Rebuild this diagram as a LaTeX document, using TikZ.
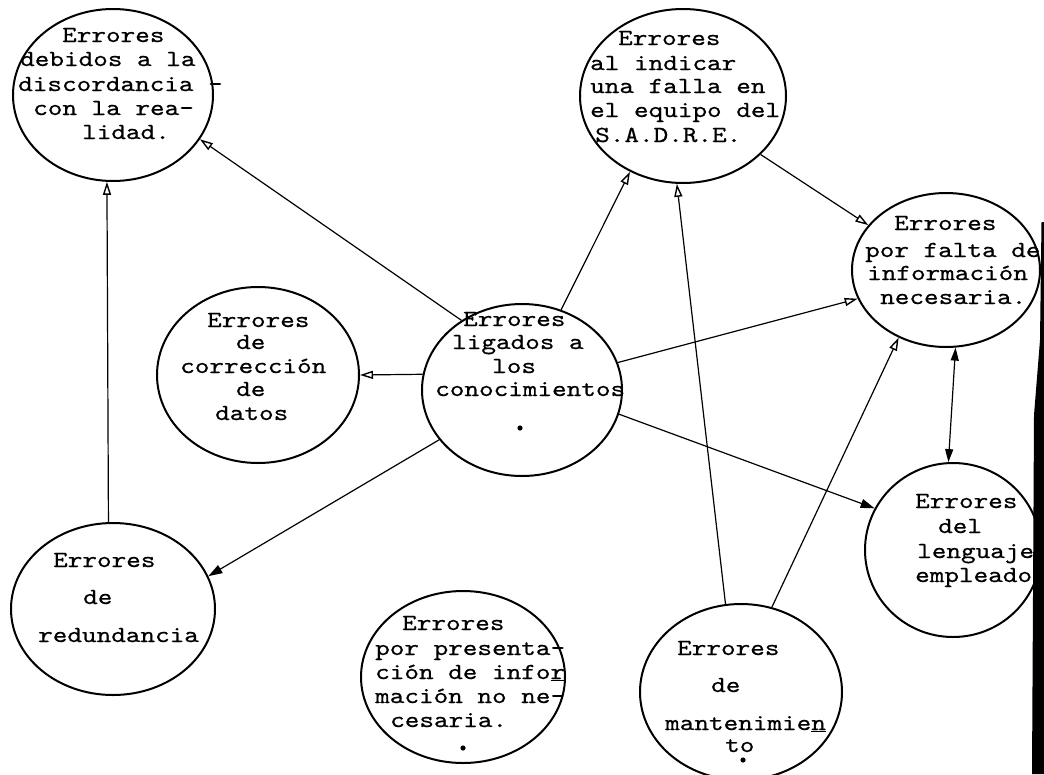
\documentclass[tikz,border=0pt]{standalone}
\usepackage{fontspec}
\usetikzlibrary{shapes.geometric,arrows.meta}
\newfontfamily\twfont{lmmono10-regular}[Extension=.otf,FakeStretch=1.21,FakeBold=0.6]
\newcommand\tw{\twfont\fontsize{23}{24}\selectfont}
\newcommand\tline[4]{\node[txt] (#1) at (#2,#3) {#4};}
\tikzset{
  ell/.style={draw, ellipse, line width=2pt, inner sep=0pt},
  txt/.style={anchor=base west, inner sep=0pt, font=\tw},
  con/.style={line width=1.2pt},
  opentip/.style={-{Triangle[open,length=13pt,width=8pt,line width=1.4pt]}},
  filltip/.style={-{Triangle[length=14pt,width=9pt]}},
  bothtip/.style={{Triangle[length=13pt,width=8pt]}-{Triangle[length=13pt,width=8pt]}},
}
\begin{document}
\begin{tikzpicture}[x=1pt,y=-1pt]
\useasboundingbox (0,0) rectangle (1044,774);
\fill[white] (0,0) rectangle (1044,774);
% ellipses
\node[ell, minimum width=200pt, minimum height=172pt] (deb) at (113,95) {};
\node[ell, minimum width=206pt, minimum height=174pt] (ind) at (683,96) {};
\node[ell, minimum width=188pt, minimum height=154pt] (fal) at (946,270) {};
\node[ell, minimum width=202pt, minimum height=176pt] (cor) at (258,375) {};
\node[ell, minimum width=200pt, minimum height=172pt] (cen) at (522,390) {};
\node[ell, minimum width=204pt, minimum height=172pt] (red) at (113,609) {};
\node[ell, minimum width=204pt, minimum height=172pt] (pre) at (463,677) {};
\node[ell, minimum width=202pt, minimum height=176pt] (man) at (741,692) {};
\node[ell, minimum width=176pt, minimum height=174pt] (len) at (953,550) {};
% texts
\tline{deb1}{62}{42}{Errores}
\tline{deb2}{20}{66}{debidos a la}
\tline{deb3}{18}{91}{discordancia -}
\tline{deb4}{33}{115}{con la rea-}
\tline{deb5}{82}{139}{lidad.}
\tline{ind1}{618}{45}{Errores}
\tline{ind2}{590}{70}{al indicar}
\tline{ind3}{590}{93}{una falla en}
\tline{ind4}{590}{117}{el equipo del}
\tline{ind5}{595}{142}{S.A.D.R.E.}
\tline{fal1}{894}{230}{Errores}
\tline{fal2}{865}{257}{por falta de}
\tline{fal3}{867}{280}{información}
\tline{fal4}{880}{304}{necesaria.}
\tline{cor1}{207}{327}{Errores}
\tline{cor2}{236}{349}{de}
\tline{cor3}{180}{373}{corrección}
\tline{cor4}{236}{396}{de}
\tline{cor5}{215}{420}{datos}
\tline{cen1}{463}{326}{Errores}
\tline{cen2}{452}{349}{ligados a}
\tline{cen3}{492}{373}{los}
\tline{cen4}{435}{396}{conocimientos}
\tline{red1}{53}{567}{Errores}
\tline{red2}{83}{604}{de}
\tline{red3}{38}{642}{redundancia}
\tline{pre1}{402}{630}{Errores}
\tline{pre2}{375}{655}{por presenta-}
\tline{pre3}{375}{679}{ción de info\underline{r}}
\tline{pre4}{375}{703}{mación no ne-}
\tline{pre5}{390}{727}{cesaria.}
\tline{man1}{677}{655}{Errores}
\tline{man2}{711}{692}{de}
\tline{man3}{665}{730}{mantenimie\underline{n}}
\tline{man4}{725}{752}{to}
\tline{len1}{915}{508}{Errores}
\tline{len2}{938}{533}{del}
\tline{len3}{917}{558}{lenguaje}
\tline{len4}{915}{582}{empleado}
% typed dots
\fill (520,428) circle (2.6pt);
\fill (463,748) circle (2.6pt);
\fill (743,760) circle (2.6pt);
% connectors
\draw[con,opentip] (cen.131) -- (deb.-27);
\draw[con,opentip] (cen.64) -- (ind.-125);
\draw[con,opentip] (ind.-37) -- (fal.150);
\draw[con,opentip] (cen.16) -- (fal.-162);
\draw[con,opentip] (cen.171) -- (cor.0);
\draw[con,filltip] (cen.211) -- (red.19);
\draw[con,filltip] (cen.-14) -- (len.152);
\draw[con,opentip] (red.93) -- (deb.266);
\draw[con,opentip] (man.100) -- (ind.266);
\draw[con,opentip] (man.70) -- (fal.-125);
\draw[con,bothtip] (fal.-83) -- (len.93);
% scan edge
\fill (1044,222) -- (1041.5,222) -- (1040,340) -- (1034,415) -- (1032,774) -- (1044,774) -- cycle;
\end{tikzpicture}
\end{document}
